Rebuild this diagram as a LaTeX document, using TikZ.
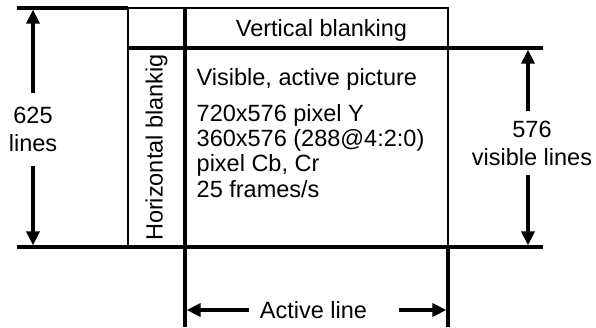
\documentclass[tikz,border=0pt]{standalone}
\usepackage{fontspec}
\setmainfont{Liberation Sans}
\usepackage{tikz}
\usetikzlibrary{arrows.meta}

\begin{document}
\begin{tikzpicture}[x=1pt, y=-1pt,
  heavy/.style={line width=3.2pt},
  frame/.style={line width=1.6pt},
  dim/.style={line width=3.2pt, -{Triangle[length=14pt, width=13pt]}},
  lbl/.style={font=\fontsize{23.5}{28}\selectfont, inner sep=0pt, align=center}]
  \useasboundingbox (0,0) rectangle (596,327);
  % frame and grid lines
  \draw[frame] (128,8) rectangle (448,247);
  \draw[heavy] (17,8) -- (128,8);
  \draw[heavy] (128,48) -- (543,48);
  \draw[heavy] (17,247) -- (543,247);
  \draw[heavy] (185,8) -- (185,327);
  \draw[heavy] (448,247) -- (448,327);
  % texts
  \node[lbl, anchor=base] (vblank) at (321.5,36.4) {Vertical blanking};
  \node[lbl, rotate=90] (hblank) at (156.5,147.5) {Horizontal blankig};
  \node[lbl, anchor=base west] (vis) at (196.5,85.7) {Visible, active picture};
  \node[lbl, anchor=north west, align=left, font=\fontsize{23.5}{25.3}\selectfont] (spec) at (196.5,104)
    {720x576 pixel Y\\360x576 (288@4:2:0)\\pixel Cb, Cr\\25 frames/s};
  \node[lbl, minimum height=73pt] (n625) at (33,129.5) {625\\lines};
  \node[lbl, minimum height=64pt] (n576) at (532,143) {576\\visible lines};
  \node[lbl, anchor=base] (actl) at (313.5,318.3) {Active line};
  % arrow ends
  \coordinate (t625) at (33,9.6);
  \coordinate (b625) at (33,245.4);
  \coordinate (t576) at (528,49.6);
  \coordinate (b576) at (528,245.4);
  \coordinate (lal) at (186.6,310);
  \coordinate (ral) at (446.4,310);
  \draw[dim] (n625.north) -- (t625);
  \draw[dim] (n625.south) -- (b625);
  \draw[dim] (n576.north -| t576) -- (t576);
  \draw[dim] (n576.south -| t576) -- (b576);
  \draw[dim, shorten <=11pt] (actl.west |- lal) -- (lal);
  \draw[dim, shorten <=32pt] (actl.east |- ral) -- (ral);
\end{tikzpicture}
\end{document}
